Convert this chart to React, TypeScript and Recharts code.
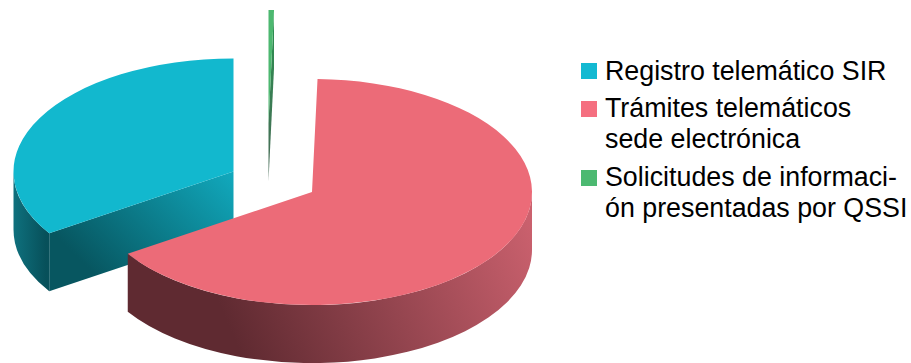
import React from "react";
import { PieChart, Pie, Legend } from "recharts";

const seriesNames = [
  "Registro telemático SIR",
  "Trámites telemáticos\nsede electrónica",
  "Solicitudes de informaci-\nón presentadas por QSSI",
];
const seriesValues = [34.2, 65.4, 0.4];
const faceColors = ["#12B8CE", "#EC6B78", "#4DB870"];

const WIDTH = 911;
const HEIGHT = 363;
const CENTER_X = 273;
const CENTER_Y = 170;
const RADIUS = 220;
const SQUASH = 0.514;
const DEPTH = 58;

// How far each slice is pulled away from the pie's centre, per series.
const sliceOffsets = [
  { dx: -39.5, dy: 1.5 },
  { dx: 39, dy: 22 },
  { dx: -4.5, dy: -47 },
];

const rimGradients = [
  { x1: 13, y1: 200, x2: 46, y2: 200, stops: ["#0F717E", "#07505A"] },
  { x1: 240, y1: 352, x2: 535, y2: 225, stops: ["#5F2A31", "#CB616E"] },
  { x1: 0, y1: 0, x2: 0, y2: 1, stops: ["#2F7F4B", "#2F7F4B"] },
];
const cutGradients = [
  { x1: 105, y1: 285, x2: 225, y2: 165, stops: ["#075660", "#11A9BD"] },
  { x1: 0, y1: 0, x2: 0, y2: 1, stops: ["#5F2A31", "#5F2A31"] },
  { x1: 272, y1: 40, x2: 269, y2: 181, stops: ["#2E8A50", "#4A6A58"] },
];

const data = seriesNames.map((name, i) => ({
  name,
  value: seriesValues[i],
  fill: faceColors[i],
  sliceIndex: i,
}));

const rad = (deg: number) => (deg * Math.PI) / 180;

// A Pie sector redrawn as a raised, tilted slice: angles come from the Pie layout.
function RaisedSlice(props: any) {
  const { cx, cy, outerRadius, startAngle, endAngle, fill, sliceIndex } = props;
  const offset = sliceOffsets[sliceIndex];
  const ox = cx + offset.dx;
  const oy = cy + offset.dy;
  const rx = outerRadius;
  const ry = outerRadius * SQUASH;
  const pt = (deg: number, drop = 0) => ({
    x: ox + rx * Math.cos(rad(deg)),
    y: oy - ry * Math.sin(rad(deg)) + drop,
  });
  const start = pt(startAngle);
  const end = pt(endAngle);
  const large = endAngle - startAngle > 180 ? 1 : 0;
  const face = `M${ox},${oy} L${start.x},${start.y} A${rx},${ry} 0 ${large} 0 ${end.x},${end.y} Z`;

  // Rim wall: the part of the arc on the near half of the ellipse.
  const rimFrom = Math.max(startAngle, 180);
  const rimTo = Math.min(endAngle, 360);
  let rim = "";
  if (rimTo > rimFrom) {
    const a = pt(rimFrom);
    const b = pt(rimTo);
    const c = pt(rimTo, DEPTH);
    const d = pt(rimFrom, DEPTH);
    rim = `M${a.x},${a.y} A${rx},${ry} 0 0 0 ${b.x},${b.y} L${c.x},${c.y} A${rx},${ry} 0 0 1 ${d.x},${d.y} Z`;
  }

  // Cut walls: a radial edge shows its wall when the slice lies above that edge.
  const mid = pt((startAngle + endAngle) / 2);
  const cuts = [start, end]
    .filter((p) => {
      const run = p.x - ox;
      if (Math.abs(run) < 0.01) return false;
      const lineY = oy + ((p.y - oy) / run) * (mid.x - ox);
      return mid.y < lineY;
    })
    .map((p) => `M${ox},${oy} L${p.x},${p.y} L${p.x},${p.y + DEPTH} L${ox},${oy + DEPTH} Z`);

  const rg = rimGradients[sliceIndex];
  const cg = cutGradients[sliceIndex];
  const rimId = `rim-${sliceIndex}`;
  const cutId = `cut-${sliceIndex}`;
  return (
    <g>
      <defs>
        <linearGradient id={rimId} gradientUnits="userSpaceOnUse" x1={rg.x1} y1={rg.y1} x2={rg.x2} y2={rg.y2}>
          <stop offset="0" stopColor={rg.stops[0]} />
          <stop offset="1" stopColor={rg.stops[1]} />
        </linearGradient>
        <linearGradient id={cutId} gradientUnits="userSpaceOnUse" x1={cg.x1} y1={cg.y1} x2={cg.x2} y2={cg.y2}>
          <stop offset="0" stopColor={cg.stops[0]} />
          <stop offset="1" stopColor={cg.stops[1]} />
        </linearGradient>
      </defs>
      {cuts.map((d) => (
        <path key={d} d={d} fill={`url(#${cutId})`} />
      ))}
      {rim && <path d={rim} fill={`url(#${rimId})`} />}
      <path d={face} fill={fill} />
    </g>
  );
}

const legendRowTops = [55, 92, 161];
const legendSwatchTops = [8, 9, 9];
const legendSwatches = ["#13B9D2", "#F56F80", "#4CB971"];

function LegendBlock({ payload }: any) {
  return (
    <div style={{ position: "relative", width: WIDTH, height: HEIGHT, fontFamily: "'Liberation Sans', sans-serif" }}>
      {(payload || []).map((entry: any, i: number) => (
        <div key={entry.value} style={{ position: "absolute", left: 0, top: legendRowTops[i] }}>
          <div
            style={{
              position: "absolute",
              left: 581,
              top: legendSwatchTops[i],
              width: 16,
              height: 16,
              background: legendSwatches[i],
            }}
          />
          <div
            style={{
              position: "absolute",
              left: 605,
              top: 1,
              fontSize: 26.8,
              lineHeight: "30.5px",
              whiteSpace: "pre",
              color: "#000",
            }}
          >
            {entry.value}
          </div>
        </div>
      ))}
    </div>
  );
}

export default function App() {
  return (
    <div style={{ position: "absolute", left: 0, top: 0, width: WIDTH, height: HEIGHT }}>
      <PieChart width={WIDTH} height={HEIGHT} margin={{ top: 0, right: 0, bottom: 0, left: 0 }}>
        <Pie
          data={data}
          dataKey="value"
          nameKey="name"
          cx={CENTER_X}
          cy={CENTER_Y}
          innerRadius={0}
          outerRadius={RADIUS}
          startAngle={90}
          endAngle={450}
          paddingAngle={0}
          stroke="none"
          isAnimationActive={false}
          shape={RaisedSlice}
        />
        <Legend
          content={LegendBlock}
          itemSorter={null}
          wrapperStyle={{ position: "absolute", left: 0, top: 0, width: WIDTH, height: HEIGHT }}
        />
      </PieChart>
    </div>
  );
}
